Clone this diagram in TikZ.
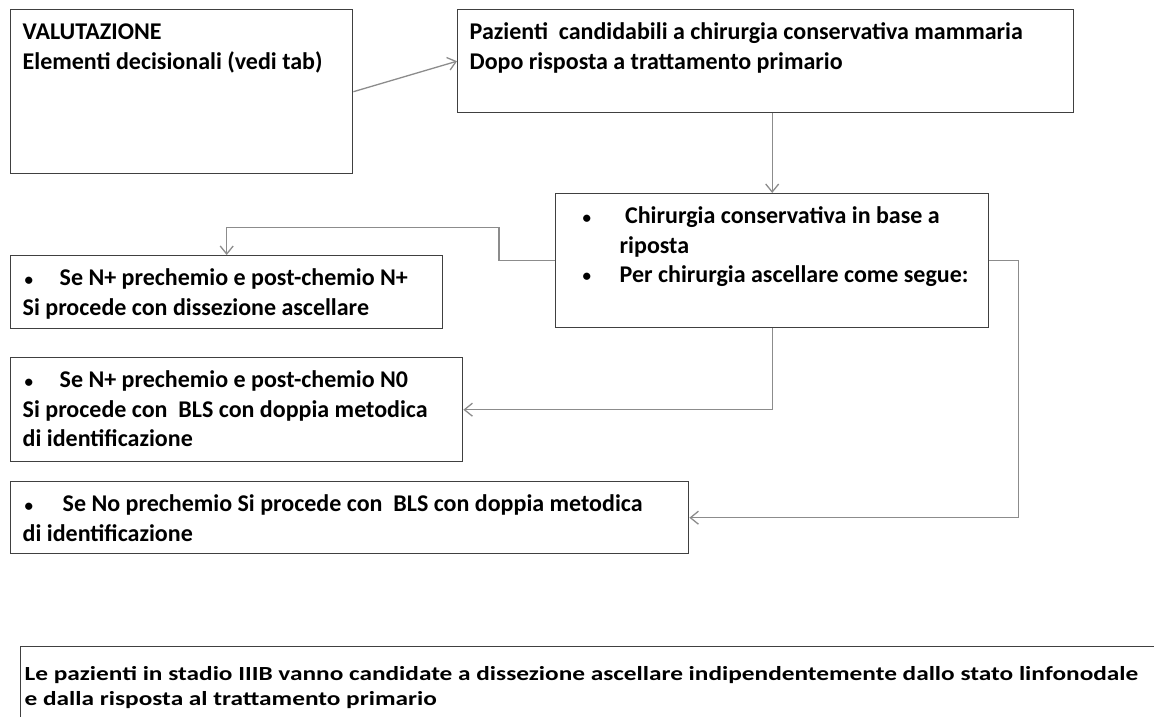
\documentclass[tikz,border=0pt]{standalone}
\usepackage{fontspec}
\setmainfont{Carlito}
\newfontfamily\widefont[FakeStretch=1.265]{Carlito}
\usetikzlibrary{arrows.meta, positioning}

\definecolor{boxline}{HTML}{404040}
\definecolor{connline}{HTML}{8C8C8C}

\newcommand{\blt}[1]{\makebox[#1][l]{\raisebox{0.5pt}{\fontsize{17}{17}\selectfont\textbullet}}}

\begin{document}
\begin{tikzpicture}[x=1pt, y=-1pt,
    every node/.style={font=\fontsize{24}{29.3}\selectfont\bfseries},
    box/.style ={draw=boxline, line width=1.4pt, rectangle, anchor=north west,
                 inner xsep=12pt, inner ysep=0pt, align=flush left, text height=30pt},
    arr/.style={-{Straight Barb[length=8pt, width=13pt]}, draw=connline, line width=1.3pt}
]
\useasboundingbox (0,0) rectangle (1154,716);

\node[box, text width=318pt, text depth=134pt] (valut) at (10,9)
    {VALUTAZIONE\\Elementi decisionali (vedi tab)};
\node[box, text width=592pt, text depth=73pt] (paz) at (457,9)
    {Pazienti\ \ candidabili a chirurgia conservativa mammaria\\Dopo risposta a trattamento primario};
\node[box, text width=409pt, text depth=104pt] (chir) at (555,193)
    {\hspace*{15pt}\blt{37pt}\ Chirurgia conservativa in base a\\
     \hspace*{52pt}riposta\\
     \hspace*{15pt}\blt{37pt}Per chirurgia ascellare come segue:};
\node[box, text width=408pt, text depth=43pt] (npos) at (10,255)
    {\hspace*{2pt}\blt{35pt}Se N+ prechemio e post-chemio N+\\Si procede con dissezione ascellare};
\node[box, text width=428pt, text depth=74pt] (nzero) at (10,357)
    {\hspace*{2pt}\blt{35pt}Se N+ prechemio e post-chemio N0\\Si procede con\ \ BLS con doppia metodica\\di identificazione};
\node[box, text width=654pt, text depth=42pt] (nno) at (10,481)
    {\hspace*{2pt}\blt{38pt}Se No prechemio Si procede con\ \ BLS con doppia metodica\\di identificazione};
\node[box, inner xsep=4pt, text width=1140pt, text height=34pt, text depth=70pt,
      font=\widefont\fontsize{20}{25}\selectfont\bfseries] (stadio) at (20,646)
    {Le pazienti in stadio IIIB vanno candidate a dissezione ascellare indipendentemente dallo stato linfonodale\\e dalla risposta al trattamento primario};

\draw[arr] (valut.east) -- (paz.west);
\draw[arr] (chir.north |- paz.south) -- (chir.north);
\draw[arr] (chir.west) -- ++(-56,0) -- ++(0,-33) -| (npos.north);
\draw[arr] (chir.south) |- (nzero.east);
\draw[arr] (chir.east) -- ++(29,0) |- (nno.east);
\end{tikzpicture}
\end{document}
